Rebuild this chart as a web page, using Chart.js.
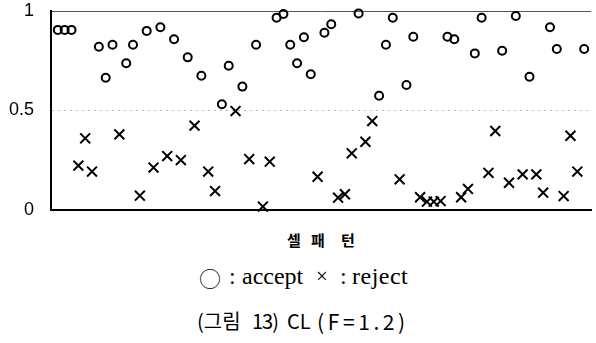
<!DOCTYPE html>
<html>
<head>
<meta charset="utf-8">
<script src="https://cdn.jsdelivr.net/npm/chart.js@4/dist/chart.umd.min.js"></script>
<style>
  html, body { margin: 0; padding: 0; background: #fff; }
  #wrap { position: relative; width: 596px; height: 343px; overflow: hidden; }
  #c { position: absolute; left: 0; top: 0; }
  .s { position: absolute; white-space: nowrap; color: #000; transform: translateY(-50%); line-height: 1; }
  .k { font-family: "Noto Sans CJK KR", sans-serif; }
  .xt { font-weight: bold; font-size: 15px; transform: translate(-50%, -50%); }
  .lg { font-family: "Liberation Serif", serif; font-size: 24px; }
  .cp { font-size: 20px; }
</style>
</head>
<body>
<div id="wrap">
  <canvas id="c" width="596" height="225"></canvas>
  <!-- x axis title -->
  <span class="s k xt" style="left:294px;top:239px">셀</span>
  <span class="s k xt" style="left:318px;top:239px">패</span>
  <span class="s k xt" style="left:348px;top:239px">턴</span>
  <!-- legend -->
  <span class="s k" style="left:199px;top:277px;font-size:22px;font-weight:300">○</span>
  <span class="s lg" style="left:229px;top:276px">:</span>
  <span class="s lg" style="left:242px;top:276px">accept</span>
  <span class="s lg" style="left:316px;top:276px;font-size:21px">×</span>
  <span class="s lg" style="left:340px;top:276px">:</span>
  <span class="s lg" style="left:352px;top:276px;letter-spacing:0.5px">reject</span>
  <!-- caption -->
  <span class="s k cp" style="left:197px;top:321px">(그림</span>
  <span class="s k cp" style="left:252px;top:321px;letter-spacing:-1px">13)</span>
  <span class="s k cp" style="left:287px;top:321px">CL</span>
  <span class="s k cp" style="left:317px;top:321px;font-size:21px;letter-spacing:3.6px">(F=1.2)</span>
</div>
<script>
// cell pattern index
const patterns = [1,2,3,4,5,6,7,8,9,10,11,12,13,14,15,16,17,18,19,20,21,22,23,24,25,26,27,28,29,30,31,32,33,34,35,36,37,38,39,40,41,42,43,44,45,46,47,48,49,50,51,52,53,54,55,56,57,58,59,60,61,62,63,64,65,66,67,68,69,70,71,72,73,74,75,76,77,78];
// accepted patterns (null = rejected)
const acceptValues = [0.905,0.905,0.905,null,null,null,0.82,0.665,0.83,null,0.737,0.83,null,0.90,null,0.918,null,0.858,null,0.767,null,0.675,null,null,0.531,0.725,null,0.62,null,0.83,null,null,0.966,0.985,0.83,0.737,0.868,0.682,null,0.891,0.933,null,null,null,0.988,null,null,0.574,0.83,0.966,null,0.628,0.871,null,null,null,null,0.871,0.858,null,null,0.787,0.966,null,null,0.80,null,0.975,null,0.67,null,null,0.918,0.809,null,null,null,0.809];
// rejected patterns (null = accepted)
const rejectValues = [null,null,null,0.223,0.36,0.193,null,null,null,0.38,null,null,0.072,null,0.213,null,0.271,null,0.251,null,0.424,null,0.193,0.095,null,null,0.497,null,0.256,null,0.017,0.243,null,null,null,null,null,null,0.167,null,null,0.062,0.079,0.285,null,0.343,0.447,null,null,null,0.154,null,null,0.064,0.042,0.042,0.045,null,null,0.064,0.106,null,null,0.187,0.397,null,0.137,null,0.179,null,0.179,0.087,null,null,0.07,0.373,0.193,null];
const yTicks = [0, 0.5, 1];
const yTickLabels = ['0', '0.5', '1'];

const toPts = vals => patterns.map((p, i) => ({x: p, y: vals[i]})).filter(d => d.y !== null);

new Chart(document.getElementById('c'), {
  type: 'scatter',
  data: {
    datasets: [
      { label: 'accept', data: toPts(acceptValues), pointStyle: 'circle', radius: 4, borderWidth: 2,
        borderColor: '#000', backgroundColor: 'rgba(255,255,255,0)', clip: false },
      { label: 'reject', data: toPts(rejectValues), pointStyle: 'crossRot', radius: 7, borderWidth: 2,
        borderColor: '#000', backgroundColor: '#000', clip: false }
    ]
  },
  options: {
    responsive: false,
    animation: false,
    devicePixelRatio: 1,
    layout: { autoPadding: false, padding: { left: 0, top: 11, right: 5, bottom: 15 } },
    plugins: { legend: { display: false }, tooltip: { enabled: false } },
    scales: {
      x: {
        type: 'linear', min: 0, max: 79,
        ticks: { display: false },
        grid: { display: false },
        border: { display: true, color: '#000', width: 2 },
        afterFit: s => { s.height = 0; s.paddingLeft = 0; s.paddingRight = 0; }
      },
      y: {
        min: 0, max: 1,
        afterBuildTicks: s => { s.ticks = yTicks.map(v => ({ value: v })); },
        ticks: {
          padding: 17,
          color: '#000',
          font: { family: 'Liberation Sans', size: 18 },
          callback: (v) => yTickLabels[yTicks.indexOf(v)]
        },
        grid: {
          drawTicks: false,
          lineWidth: 1,
          color: ctx => ctx.tick && ctx.tick.value === 0.5 ? '#b8b8b8' : (ctx.tick && ctx.tick.value === 1 ? '#555' : 'rgba(0,0,0,0)')
        },
        border: {
          display: true, color: '#000', width: 2,
          dash: ctx => ctx.tick && ctx.tick.value === 0.5 ? [2, 4] : []
        },
        afterFit: s => { s.width = 51; s.paddingTop = 0; s.paddingBottom = 0; }
      }
    }
  }
});
</script>
</body>
</html>
